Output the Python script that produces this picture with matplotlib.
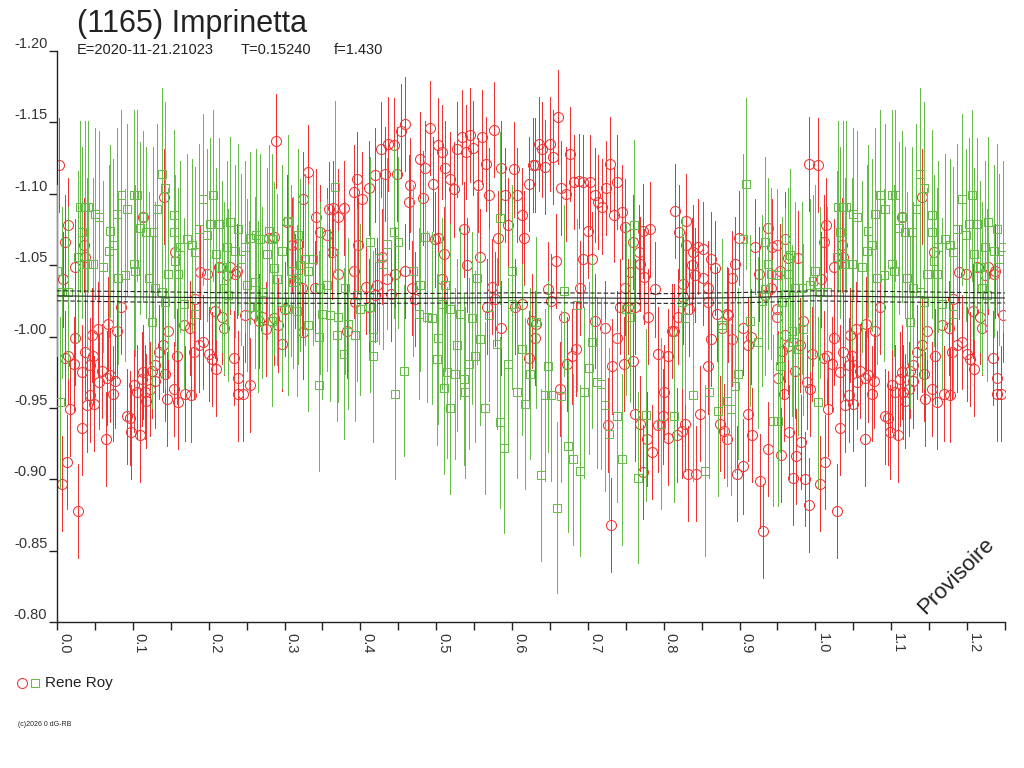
import numpy as np
import matplotlib

matplotlib.use("Agg")
import matplotlib.pyplot as plt
from matplotlib.lines import Line2D
from matplotlib.ticker import MultipleLocator

plt.rcParams["font.family"] = ["Liberation Sans", "DejaVu Sans"]

RED = "#ee3333"
GREEN = "#66bb4a"
INK = "#222222"

# ---- observations (phase 0..1, reduced mag) ----
red_phase = [
    0.003, 0.014, 0.011, 0.008, 0.024, 0.035, 0.037, 0.024, 0.015, 0.011,
    0.037, 0.046, 0.054, 0.048, 0.044, 0.033, 0.022, 0.017, 0.013, 0.006,
    0.028, 0.033, 0.039, 0.044, 0.049, 0.055, 0.059, 0.066, 0.070, 0.077,
    0.074, 0.065, 0.067, 0.079, 0.085, 0.092, 0.096, 0.098, 0.109, 0.101,
    0.105, 0.114, 0.116, 0.118, 0.112, 0.125, 0.129, 0.123, 0.129, 0.134,
    0.140, 0.143, 0.145, 0.147, 0.154, 0.160, 0.158, 0.167, 0.169, 0.176,
    0.177, 0.180, 0.182, 0.189, 0.198, 0.187, 0.193, 0.200, 0.204, 0.209,
    0.208, 0.213, 0.217, 0.220, 0.224, 0.228, 0.235, 0.237, 0.234, 0.239,
    0.239, 0.245, 0.255, 0.248, 0.261, 0.267, 0.275, 0.270, 0.286, 0.291,
    0.297, 0.301, 0.289, 0.141, 0.114, 0.156, 0.279, 0.286, 0.303, 0.310,
    0.331, 0.325, 0.341, 0.347, 0.318, 0.358, 0.364, 0.378, 0.371, 0.356,
    0.395, 0.391, 0.402, 0.411, 0.419, 0.427, 0.437, 0.444, 0.433, 0.448,
    0.454, 0.459, 0.466, 0.464, 0.479, 0.485, 0.483, 0.492, 0.496, 0.502,
    0.507, 0.512, 0.518, 0.523, 0.528, 0.534, 0.539, 0.545, 0.549, 0.560,
    0.566, 0.576, 0.555, 0.570, 0.586, 0.591, 0.602, 0.606, 0.595, 0.613,
    0.616, 0.622, 0.628, 0.536, 0.581, 0.510, 0.499, 0.397, 0.362, 0.340,
    0.323, 0.314, 0.371, 0.391, 0.428, 0.446, 0.459, 0.468, 0.408, 0.422,
    0.435, 0.441, 0.541, 0.558, 0.507, 0.573, 0.503, 0.325, 0.382, 0.393,
    0.411, 0.419, 0.472, 0.586, 0.604, 0.613, 0.622, 0.626, 0.567, 0.578,
    0.660, 0.635, 0.639, 0.650, 0.654, 0.643, 0.630, 0.676, 0.665, 0.671,
    0.682, 0.688, 0.694, 0.703, 0.709, 0.714, 0.718, 0.724, 0.729, 0.738,
    0.734, 0.745, 0.700, 0.749, 0.760, 0.767, 0.773, 0.782, 0.774, 0.769,
    0.756, 0.658, 0.694, 0.705, 0.690, 0.648, 0.652, 0.669, 0.709, 0.722,
    0.749, 0.753, 0.762, 0.779, 0.788, 0.742, 0.738, 0.684, 0.679, 0.673,
    0.732, 0.747, 0.759, 0.793, 0.806, 0.811, 0.815, 0.830, 0.820, 0.830,
    0.839, 0.845, 0.852, 0.863, 0.868, 0.837, 0.826, 0.841, 0.852, 0.859,
    0.826, 0.833, 0.859, 0.870, 0.885, 0.890, 0.894, 0.899, 0.905, 0.911,
    0.915, 0.921, 0.925, 0.938, 0.934, 0.941, 0.943, 0.819, 0.813, 0.863,
    0.877, 0.890, 0.883, 0.859, 0.801, 0.762, 0.769, 0.778, 0.784, 0.773,
    0.726, 0.731, 0.663, 0.793, 0.799, 0.806, 0.817, 0.824, 0.828, 0.848,
    0.832, 0.843, 0.874, 0.879, 0.884, 0.911, 0.916, 0.896, 0.905, 0.927,
    0.938, 0.931, 0.630, 0.632,
    0.950, 0.960, 0.964, 0.977, 0.953, 0.949, 0.955, 0.965, 0.971, 0.975,
    0.981, 0.986, 0.991, 0.991, 0.951, 0.959, 0.973, 0.984, 0.980, 0.989,
    0.993, 0.995, 0.960, 0.964, 0.956, 0.950,
]
red_mag = [
    -1.120, -1.078, -1.066, -1.040, -1.049, -1.064, -1.056, -0.999, -0.986, -0.985,
    -0.989, -1.001, -1.005, -0.986, -0.980, -0.975, -0.981, -0.949, -0.912, -0.897,
    -0.878, -0.936, -0.952, -0.959, -0.953, -0.968, -0.976, -0.971, -0.973, -0.969,
    -0.960, -0.928, -1.009, -1.004, -1.021, -0.944, -0.943, -0.933, -0.931, -0.966,
    -0.961, -0.975, -0.961, -0.955, -0.970, -0.976, -0.969, -0.963, -0.980, -0.989,
    -0.994, -0.974, -0.956, -1.004, -0.963, -0.954, -0.986, -1.008, -0.960, -1.006,
    -0.959, -0.989, -1.026, -1.045, -1.044, -0.994, -0.996, -0.988, -0.984, -0.977,
    -1.018, -1.049, -1.014, -1.006, -1.043, -1.049, -1.044, -1.046, -0.985, -0.971,
    -0.960, -0.960, -0.966, -1.015, -1.015, -1.011, -1.005, -1.014, -1.013, -1.008,
    -0.995, -1.019, -1.137, -1.098, -1.084, -1.059, -1.069, -1.070, -1.080, -1.064,
    -1.115, -1.096, -1.084, -1.073, -1.065, -1.089, -1.090, -1.090, -1.084, -1.071,
    -1.110, -1.101, -1.096, -1.104, -1.113, -1.131, -1.135, -1.134, -1.114, -1.114,
    -1.144, -1.149, -1.106, -1.094, -1.124, -1.118, -1.097, -1.146, -1.107, -1.134,
    -1.129, -1.118, -1.110, -1.103, -1.131, -1.140, -1.129, -1.141, -1.132, -1.140,
    -1.121, -1.145, -1.106, -1.099, -1.118, -1.099, -1.117, -1.099, -1.078, -1.085,
    -1.069, -1.107, -1.120, -1.075, -1.069, -1.058, -1.068, -1.064, -1.059, -1.034,
    -1.034, -1.039, -1.044, -1.046, -1.056, -1.044, -1.046, -1.034, -1.035, -1.036,
    -1.040, -1.030, -1.050, -1.056, -1.040, -1.035, -1.069, -1.003, -1.004, -1.024,
    -1.021, -1.029, -1.026, -1.006, -1.021, -1.023, -0.985, -1.011, -1.021, -1.026,
    -1.154, -1.135, -1.131, -1.135, -1.126, -1.119, -1.120, -1.128, -1.104, -1.100,
    -1.108, -1.109, -1.108, -1.108, -1.099, -1.094, -1.091, -1.104, -1.121, -1.108,
    -1.085, -1.087, -1.074, -1.077, -1.066, -1.059, -1.074, -1.075, -1.042, -1.051,
    -1.045, -1.053, -1.054, -1.054, -1.034, -1.033, -1.025, -1.014, -1.011, -1.006,
    -1.034, -1.021, -1.021, -1.014, -1.033, -1.021, -0.999, -0.991, -0.986, -0.981,
    -0.979, -0.981, -0.983, -0.988, -0.986, -1.004, -1.088, -1.081, -1.073, -1.064,
    -1.059, -1.063, -1.061, -1.054, -1.048, -1.050, -1.037, -1.043, -1.041, -1.034,
    -1.028, -1.019, -1.024, -1.016, -1.015, -1.041, -1.051, -1.069, -1.006, -0.994,
    -1.000, -1.063, -1.044, -1.076, -1.029, -1.034, -1.063, -1.014, -1.004, -0.998,
    -1.006, -0.998, -1.016, -0.979, -0.961, -0.946, -0.939, -0.928, -0.919, -0.905,
    -0.938, -0.868, -0.963, -0.938, -0.944, -0.929, -0.931, -0.934, -0.939, -0.946,
    -0.904, -0.904, -0.939, -0.934, -0.928, -0.946, -0.931, -0.904, -0.909, -0.899,
    -0.921, -0.864, -0.999, -1.009,
    -1.064, -1.068, -1.055, -1.055, -1.046, -1.019, -0.917, -0.933, -0.901, -0.916,
    -0.926, -0.900, -0.882, -1.121, -0.971, -0.960, -0.976, -1.011, -0.994, -0.968,
    -0.963, -0.988, -1.001, -0.993, -0.990, -1.014,
]
red_err = 0.033

green_phase = [
    0.000, 0.004, 0.006, 0.015, 0.030, 0.037, 0.041, 0.033, 0.028, 0.039,
    0.048, 0.055, 0.061, 0.068, 0.070, 0.074, 0.079, 0.085, 0.092, 0.101,
    0.105, 0.090, 0.101, 0.110, 0.114, 0.118, 0.127, 0.132, 0.138, 0.143,
    0.154, 0.154, 0.156, 0.162, 0.171, 0.178, 0.182, 0.187, 0.193, 0.198,
    0.206, 0.202, 0.213, 0.209, 0.217, 0.224, 0.228, 0.235, 0.239, 0.248,
    0.255, 0.263, 0.268, 0.279, 0.283, 0.277, 0.286, 0.290, 0.297, 0.305,
    0.308, 0.311, 0.050, 0.081, 0.103, 0.121, 0.129, 0.138, 0.147, 0.160,
    0.167, 0.182, 0.220, 0.226, 0.242, 0.250, 0.261, 0.270, 0.125, 0.143,
    0.253, 0.265, 0.283, 0.297, 0.305,
    0.318, 0.320, 0.327, 0.338, 0.331, 0.318, 0.367, 0.356, 0.349, 0.360,
    0.369, 0.384, 0.393, 0.378, 0.345, 0.345, 0.316, 0.380, 0.395, 0.400,
    0.413, 0.424, 0.435, 0.444, 0.450, 0.430, 0.417, 0.417, 0.413, 0.457,
    0.446, 0.470, 0.479, 0.485, 0.477, 0.488, 0.494, 0.503, 0.501, 0.512,
    0.507, 0.518, 0.532, 0.514, 0.510, 0.518, 0.527, 0.525, 0.536, 0.538,
    0.543, 0.547, 0.554, 0.558, 0.551, 0.565, 0.569, 0.580, 0.584, 0.584,
    0.590, 0.595, 0.600, 0.606, 0.617, 0.624, 0.613, 0.600, 0.347, 0.331,
    0.371,
    0.669, 0.685, 0.632, 0.648, 0.643, 0.652, 0.665, 0.638, 0.659, 0.674,
    0.680, 0.690, 0.695, 0.701, 0.706, 0.712, 0.717, 0.722, 0.728, 0.739,
    0.745, 0.750, 0.756, 0.761, 0.766, 0.776, 0.796, 0.813, 0.828, 0.839,
    0.855, 0.860, 0.872, 0.877, 0.883, 0.889, 0.894, 0.898, 0.904, 0.908,
    0.914, 0.924, 0.929, 0.934, 0.938, 0.934, 0.941, 0.944, 0.824,
    0.949, 0.953, 0.951, 0.966, 0.964, 0.973, 0.960, 0.969, 0.971, 0.984,
    0.982, 0.993, 0.997, 0.999, 0.977, 0.956,
]
green_mag = [
    -1.046, -0.954, -1.031, -1.031, -1.091, -1.091, -1.091, -1.073, -1.056, -1.051,
    -1.051, -1.084, -1.049, -1.060, -1.074, -1.064, -1.086, -1.099, -1.089, -1.099,
    -1.099, -1.043, -1.051, -1.076, -1.084, -1.073, -1.073, -1.089, -1.114, -1.104,
    -1.085, -1.073, -1.053, -1.063, -1.068, -1.064, -1.059, -1.075, -1.096, -1.071,
    -1.099, -1.079, -1.079, -1.058, -1.049, -1.063, -1.080, -1.060, -1.075, -1.063,
    -1.069, -1.071, -1.068, -1.074, -1.068, -1.058, -1.048, -1.040, -1.060, -1.081,
    -1.046, -1.038, -1.086, -1.041, -1.046, -1.041, -1.034, -1.031, -1.044, -1.044,
    -1.023, -1.016, -1.034, -1.029, -1.054, -1.036, -1.038, -1.031, -1.010, -1.024,
    -1.021, -1.021, -1.011, -1.024, -1.019,
    -1.071, -1.050, -1.054, -1.054, -1.046, -1.041, -1.105, -1.036, -1.016, -1.015,
    -1.001, -1.009, -1.001, -0.988, -1.000, -0.966, -1.018, -1.034, -1.029, -1.019,
    -1.066, -1.055, -1.065, -1.073, -1.066, -1.051, -1.000, -0.986, -1.021, -0.976,
    -0.960, -1.046, -1.036, -1.070, -1.016, -1.014, -1.013, -0.999, -0.984, -1.036,
    -1.023, -1.019, -1.016, -0.975, -0.964, -0.950, -0.994, -0.974, -0.970, -0.961,
    -0.981, -1.013, -1.041, -0.998, -0.986, -0.950, -1.015, -0.995, -1.083, -0.940,
    -0.922, -0.981, -1.046, -0.961, -0.953, -0.974, -0.991, -1.023, -1.034, -1.008,
    -1.014,
    -1.032, -1.022, -1.010, -0.979, -0.959, -0.959, -0.958, -0.903, -0.880, -0.923,
    -0.914, -0.906, -0.961, -0.978, -0.996, -0.968, -0.967, -0.952, -0.932, -0.944,
    -0.914, -1.019, -1.014, -1.078, -0.901, -0.945, -0.939, -0.944, -1.013, -0.959,
    -0.906, -0.961, -0.948, -1.008, -0.955, -0.949, -0.965, -0.974, -1.068, -1.107,
    -1.011, -0.996, -1.025, -1.033, -1.051, -1.066, -1.044, -0.941, -1.024,
    -1.043, -0.979, -0.941, -1.057, -1.044, -1.034, -1.030, -1.004, -0.996, -1.005,
    -1.034, -1.036, -1.039, -1.046, -0.991, -1.024,
]
green_err = 0.060

# fitted curve and its band
fit_phase = [0.0, 0.1, 0.2, 0.3, 0.4, 0.5, 0.6, 0.7, 0.8, 0.9, 1.0, 1.1, 1.2, 1.25]
fit_mid = [-1.0285, -1.0278, -1.0272, -1.0268, -1.0266, -1.0268, -1.0272,
           -1.0270, -1.0266, -1.0272, -1.0285, -1.0278, -1.0272, -1.0270]
fit_hi = [-1.0320, -1.0315, -1.0308, -1.0303, -1.0300, -1.0302, -1.0306,
          -1.0305, -1.0300, -1.0308, -1.0320, -1.0315, -1.0308, -1.0305]
fit_lo = [-1.0250, -1.0242, -1.0236, -1.0233, -1.0232, -1.0234, -1.0238,
          -1.0235, -1.0232, -1.0236, -1.0250, -1.0242, -1.0236, -1.0235]


def wrap(phase, mag, upto=0.25):
    # repeat the start of the cycle after phase 1
    phase = np.asarray(phase)
    mag = np.asarray(mag)
    m = phase < upto
    return np.concatenate([phase, phase[m] + 1.0]), np.concatenate([mag, mag[m]])


rx, ry = wrap(red_phase, red_mag)
gx, gy = wrap(green_phase, green_mag)

W, H = 1024, 768
fig = plt.figure(figsize=(W / 100, H / 100), dpi=100)
ax = fig.add_axes([57 / W, 1 - 622 / H, (1005 - 57) / W, (622 - 51) / H])

eb_r = ax.errorbar(rx, ry, yerr=red_err, fmt="o", ms=7.2, mfc="none", mec=RED, mew=0.75,
                   ecolor=RED, elinewidth=0.72, capsize=0, zorder=2)
eb_g = ax.errorbar(gx, gy, yerr=green_err, fmt="s", ms=5.2, mfc="none", mec=GREEN, mew=0.75,
                   ecolor=GREEN, elinewidth=0.72, capsize=0, zorder=3)
# crisp one-pixel bars, like the original raster
for eb in (eb_r, eb_g):
    for lc in eb[2]:
        lc.set_antialiased(False)

ax.plot(fit_phase, fit_mid, color=INK, lw=0.8, zorder=5)
ax.plot(fit_phase, fit_hi, color=INK, lw=0.8, ls=(0, (4, 2)), zorder=5)
ax.plot(fit_phase, fit_lo, color=INK, lw=0.8, ls=(0, (4, 2)), zorder=5)

ax.set_xlim(0, 1.25)
ax.set_ylim(-0.80, -1.20)
for s in ("top", "right"):
    ax.spines[s].set_visible(False)
for s in ("left", "bottom"):
    ax.spines[s].set_color(INK)
    ax.spines[s].set_linewidth(1.0)

xt = [0.0, 0.1, 0.2, 0.3, 0.4, 0.5, 0.6, 0.7, 0.8, 0.9, 1.0, 1.1, 1.2]
ax.set_xticks(xt, [f"{v:.1f}" for v in xt], rotation=-90, ha="left", va="top")
ax.xaxis.set_minor_locator(MultipleLocator(0.05))
yt = [-1.20, -1.15, -1.10, -1.05, -1.00, -0.95, -0.90, -0.85, -0.80]
ax.set_yticks(yt, [f"{v:.2f}" for v in yt], va="bottom")
ax.tick_params(axis="both", which="both", direction="out", length=6, width=1,
               color=INK, labelcolor="#333333", labelsize=10.5)
ax.tick_params(axis="y", pad=1)
ax.tick_params(axis="x", pad=2)

fig.text(77 / W, 1 - 32 / H, "(1165) Imprinetta", fontsize=22, color=INK, va="baseline")
fig.text(77 / W, 1 - 54 / H, "E=2020-11-21.21023", fontsize=10.5, color=INK, va="baseline")
fig.text(241 / W, 1 - 54 / H, "T=0.15240", fontsize=10.5, color=INK, va="baseline")
fig.text(334 / W, 1 - 54 / H, "f=1.430", fontsize=10.5, color=INK, va="baseline")

fig.text(956 / W, 1 - 576 / H, "Provisoire", rotation=45, ha="center", va="center",
         fontsize=16, color=INK)

# legend
fig.add_artist(Line2D([22 / W], [1 - 683 / H], marker="o", ms=7.2, mfc="none", mec=RED,
                      mew=0.75, ls="none", transform=fig.transFigure))
fig.add_artist(Line2D([35 / W], [1 - 683 / H], marker="s", ms=5.2, mfc="none", mec=GREEN,
                      mew=0.75, ls="none", transform=fig.transFigure))
fig.text(45 / W, 1 - 683 / H, "Rene Roy", fontsize=11, color=INK, va="center")
fig.text(18 / W, 1 - 725 / H, "(c)2026 0 dG-RB", fontsize=5, color=INK, va="center")

fig.savefig("out.png", dpi=100)
